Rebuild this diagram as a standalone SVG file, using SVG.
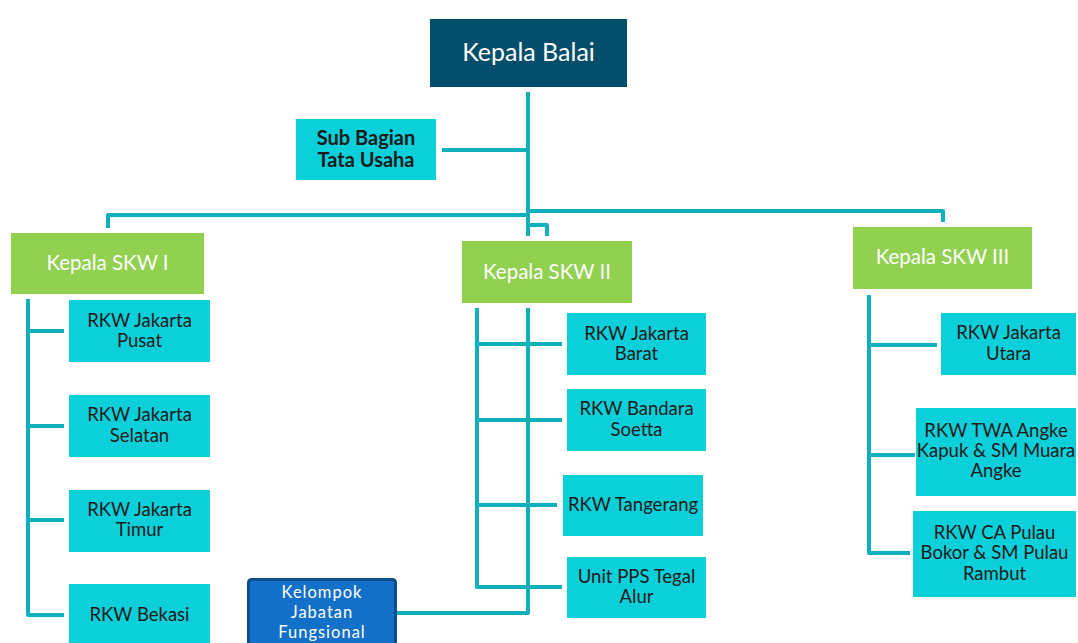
<svg xmlns="http://www.w3.org/2000/svg" width="1078" height="643" viewBox="0 0 1078 643">
<style>
.ln{fill:none;stroke:#0fb0bb;stroke-width:4;stroke-linejoin:round;stroke-linecap:butt}
.cy{fill:#0bcfd9}
.gr{fill:#92d050}
.t{font-family:Lato,"Open Sans","Liberation Sans",sans-serif;font-size:18.5px;fill:#1a1a1a;text-anchor:middle}
.w{font-family:Lato,"Open Sans","Liberation Sans",sans-serif;font-size:20.5px;fill:#ffffff;text-anchor:middle}
.k{font-family:Lato,"Open Sans","Liberation Sans",sans-serif;font-size:16.5px;letter-spacing:1px;fill:#ffffff;text-anchor:middle}
</style>
<rect width="1078" height="643" fill="#ffffff"/>
<g id="connectors">
<path class="ln" d="M528 92 V236"/>
<path class="ln" d="M442 150 H528"/>
<path class="ln" d="M108 228 V215 H528"/>
<path class="ln" d="M528 225 H547 V236"/>
<path class="ln" d="M528 211 H943 V222"/>
<path class="ln" d="M28 299 V615 H64"/>
<path class="ln" d="M28 331 H64 M28 426 H64 M28 520 H64"/>
<path class="ln" d="M477 308 V587 H562"/>
<path class="ln" d="M477 344 H562 M477 420 H562 M477 505 H557"/>
<path class="ln" d="M528 308 V613 H396"/>
<path class="ln" d="M869 295 V553 H910"/>
<path class="ln" d="M869 345 H937 M869 455 H915"/>
</g>
<g id="kepala-balai">
<rect x="430" y="19" width="197" height="68" fill="#034f6b"/>
<text x="528.5" y="61" class="w" style="font-size:25px">Kepala Balai</text>
</g>
<g id="sub-bagian">
<rect x="296" y="119" width="140" height="61" class="cy"/>
<text class="t" style="font-weight:bold;font-size:20px" x="366" y="145">Sub Bagian</text>
<text class="t" style="font-weight:bold;font-size:20px" x="366" y="167">Tata Usaha</text>
</g>
<g id="skw1">
<rect x="11" y="233" width="193" height="61" class="gr"/>
<text class="w" x="107.5" y="270">Kepala SKW I</text>
</g>
<g id="skw2">
<rect x="462" y="241" width="170" height="62" class="gr"/>
<text class="w" x="547" y="279">Kepala SKW II</text>
</g>
<g id="skw3">
<rect x="853" y="227" width="179" height="62" class="gr"/>
<text class="w" x="942.5" y="264">Kepala SKW III</text>
</g>
<g id="rkw-jakarta-pusat">
<rect x="69" y="300" width="141" height="62" class="cy"/>
<text class="t" x="139.5" y="327">RKW Jakarta</text>
<text class="t" x="139.5" y="347">Pusat</text>
</g>
<g id="rkw-jakarta-selatan">
<rect x="69" y="395" width="141" height="62" class="cy"/>
<text class="t" x="139.5" y="421">RKW Jakarta</text>
<text class="t" x="139.5" y="442">Selatan</text>
</g>
<g id="rkw-jakarta-timur">
<rect x="69" y="490" width="141" height="62" class="cy"/>
<text class="t" x="139.5" y="516">RKW Jakarta</text>
<text class="t" x="139.5" y="536">Timur</text>
</g>
<g id="rkw-bekasi">
<rect x="69" y="584" width="141" height="62" class="cy"/>
<text class="t" x="139.5" y="621">RKW Bekasi</text>
</g>
<g id="kelompok-jabatan-fungsional">
<rect x="248.5" y="579.5" width="147" height="70" rx="3" fill="#1270c8" stroke="#0b4f8e" stroke-width="3"/>
<text class="k" x="322" y="598">Kelompok</text>
<text class="k" x="322" y="618">Jabatan</text>
<text class="k" x="322" y="638">Fungsional</text>
</g>
<g id="rkw-jakarta-barat">
<rect x="567" y="313" width="139" height="62" class="cy"/>
<text class="t" x="636.5" y="340">RKW Jakarta</text>
<text class="t" x="636.5" y="360">Barat</text>
</g>
<g id="rkw-bandara-soetta">
<rect x="567" y="389" width="139" height="62" class="cy"/>
<text class="t" x="636.5" y="415">RKW Bandara</text>
<text class="t" x="636.5" y="436">Soetta</text>
</g>
<g id="rkw-tangerang">
<rect x="563" y="475" width="140" height="61" class="cy"/>
<text class="t" x="633" y="511">RKW Tangerang</text>
</g>
<g id="unit-pps-tegal-alur">
<rect x="567" y="557" width="139" height="61" class="cy"/>
<text class="t" x="636.5" y="583">Unit PPS Tegal</text>
<text class="t" x="636.5" y="603">Alur</text>
</g>
<g id="rkw-jakarta-utara">
<rect x="941" y="313" width="135" height="62" class="cy"/>
<text class="t" x="1008.5" y="339">RKW Jakarta</text>
<text class="t" x="1008.5" y="360">Utara</text>
</g>
<g id="rkw-twa-angke">
<rect x="916" y="408" width="160" height="88" class="cy"/>
<text class="t" x="996" y="437">RKW TWA Angke</text>
<text class="t" x="996" y="457">Kapuk &amp; SM Muara</text>
<text class="t" x="996" y="477">Angke</text>
</g>
<g id="rkw-ca-pulau">
<rect x="913" y="511" width="163" height="86" class="cy"/>
<text class="t" x="994.5" y="539">RKW CA Pulau</text>
<text class="t" x="994.5" y="559">Bokor &amp; SM Pulau</text>
<text class="t" x="994.5" y="580">Rambut</text>
</g>
</svg>
